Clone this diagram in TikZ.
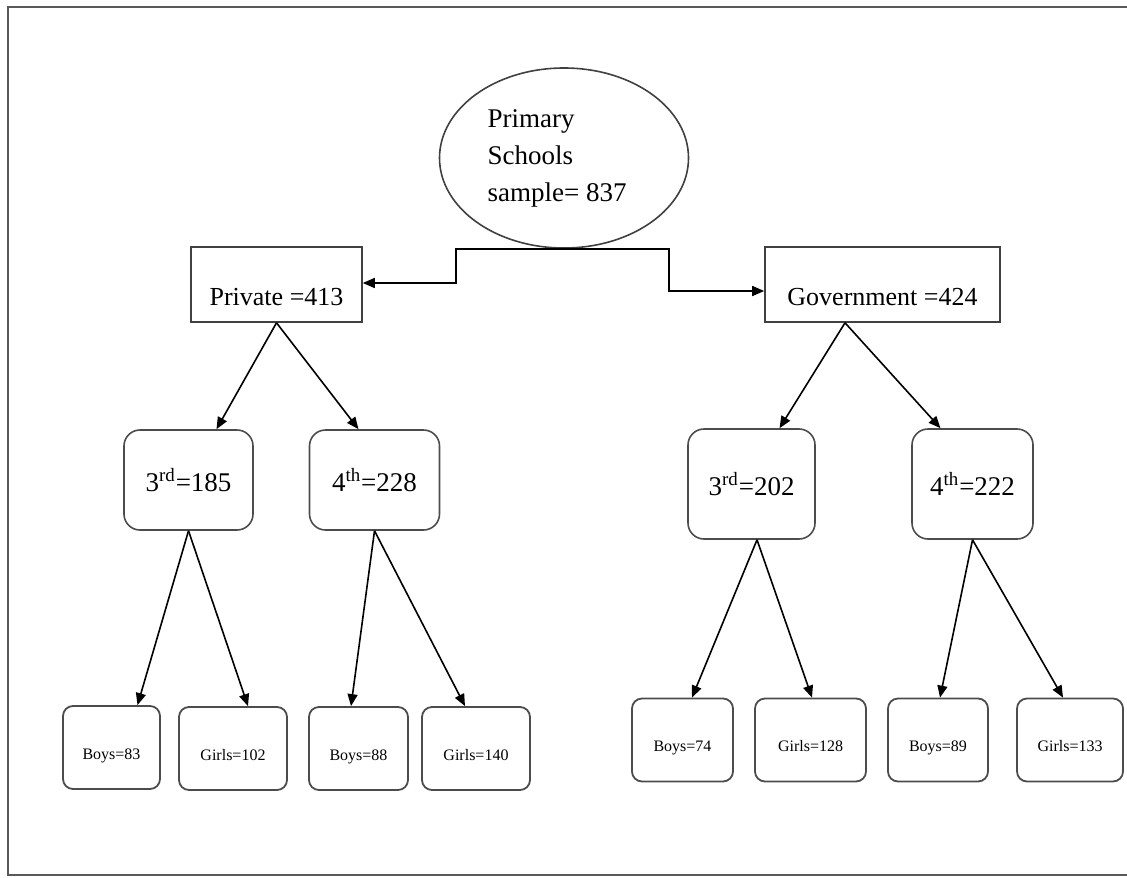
\documentclass[tikz,border=0pt]{standalone}
\usepackage{fontspec}
\setmainfont{Liberation Serif}
\usetikzlibrary{shapes.geometric,arrows.meta}

\begin{document}
\begin{tikzpicture}[
  x=0.5pt, y=-0.5pt,
  frame/.style={draw=black!65, line width=1pt},
  rootnode/.style={ellipse, draw=black!75, line width=0.8pt, minimum width=124.5pt, minimum height=90pt, inner sep=0pt, align=left, font=\fontsize{13.5}{18.5}\selectfont},
  sector/.style={rectangle, draw=black!75, line width=0.8pt, minimum height=37.5pt, inner sep=0pt, text height=29pt, text depth=8.5pt, font=\fontsize{13}{15}\selectfont},
  grade/.style={rectangle, rounded corners=8pt, draw=black!70, line width=0.8pt, inner sep=0pt, font=\fontsize{13.5}{16}\selectfont},
  pupil/.style={rectangle, rounded corners=5pt, draw=black!70, line width=0.9pt, inner sep=0pt, text height=26.5pt, text depth=15pt, font=\fontsize{8}{10}\selectfont},
  arr/.style={-{Triangle[length=6pt,width=5pt]}, line width=0.8pt}
]
  \useasboundingbox (0,0) rectangle (1127,877);
  \draw[frame] (8,7) rectangle (1140,875);

  % top
  \node[rootnode] (root) at (564,158) {Primary\\Schools\\sample= 837\hspace*{7pt}};

  % sectors
  \node[sector, minimum width=85.5pt] (priv) at (276.5,284.5) {Private =413};
  \node[sector, minimum width=117.5pt] (gov) at (882.5,284.5) {Government =424};

  \coordinate (pk) at (456,283);
  \coordinate (gk) at (669,291);
  \draw[arr] (root.south) -| (pk) -- (priv.east |- pk);
  \draw[arr] (root.south) -| (gk) -- (gov.west |- gk);

  % grades
  \node[grade, minimum width=64.5pt, minimum height=50pt] (p3) at (188.5,480) {3\textsuperscript{rd}=185};
  \node[grade, minimum width=65pt, minimum height=50pt] (p4) at (374.5,480) {4\textsuperscript{th}=228};
  \node[grade, minimum width=63.5pt, minimum height=55pt] (g3) at (751.5,484) {3\textsuperscript{rd}=202};
  \node[grade, minimum width=60.5pt, minimum height=55pt] (g4) at (972.5,484) {4\textsuperscript{th}=222};

  % boys and girls
  \node[pupil, minimum width=48.5pt] (pb3) at (111.5,747.5) {Boys=83};
  \node[pupil, minimum width=54pt] (pg3) at (233,748.5) {Girls=102};
  \node[pupil, minimum width=49.5pt] (pb4) at (358.5,748.5) {Boys=88};
  \node[pupil, minimum width=54pt] (pg4) at (476,748.5) {Girls=140};
  \node[pupil, minimum width=50.5pt] (gb3) at (682.5,740) {Boys=74};
  \node[pupil, minimum width=55.5pt] (gg3) at (810.5,740) {Girls=128};
  \node[pupil, minimum width=50pt] (gb4) at (938,740) {Boys=89};
  \node[pupil, minimum width=53pt] (gg4) at (1070,740) {Girls=133};

  \foreach \from/\fs/\to/\ts in {priv/0/p3/14, priv/0/p4/-8, gov/-18.75/g3/14, gov/-18.75/g4/-16,
      p3/0/pb3/13, p3/0/pg3/7.5, p4/0/pb4/-3.75, p4/0/pg4/-5.5,
      g3/2.75/gb3/4.75, g3/2.75/gg3/0.75, g4/0/gb4/1, g4/0/gg4/-3.5}
    \draw[arr] ([xshift=\fs pt]\from.south) -- ([xshift=\ts pt]\to.north);
\end{tikzpicture}
\end{document}
